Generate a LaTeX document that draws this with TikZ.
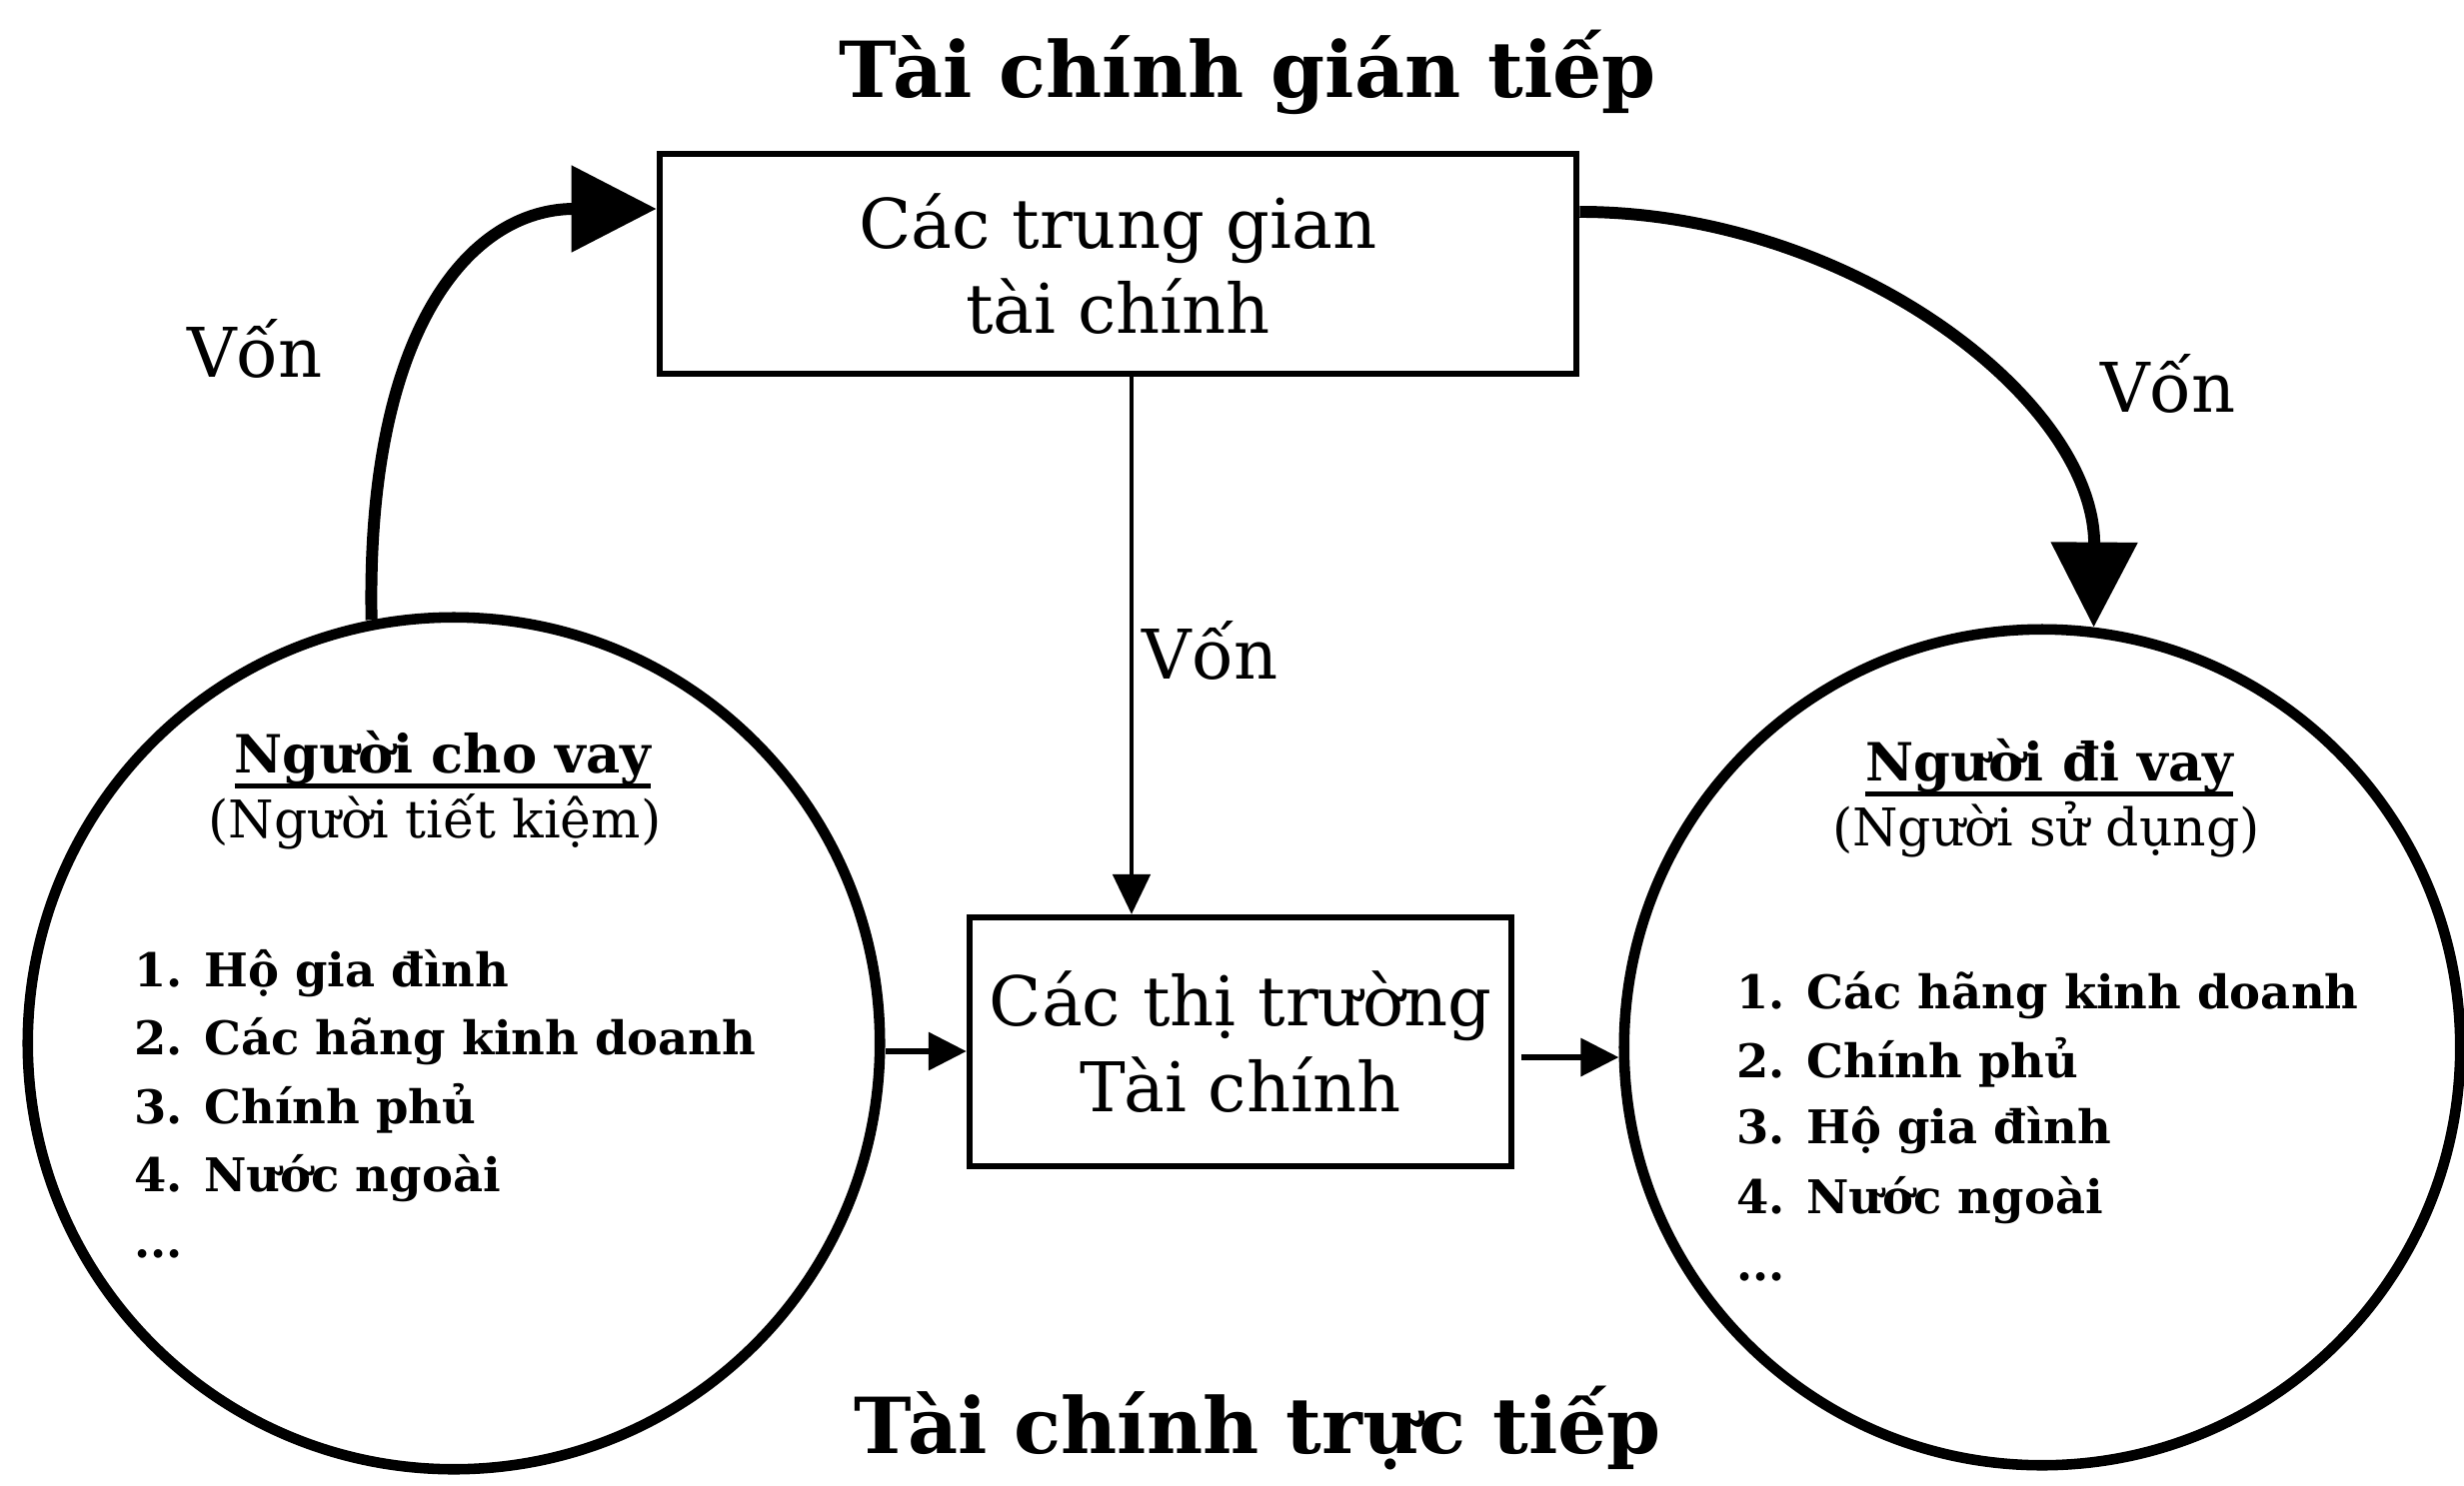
\documentclass[tikz,border=0pt]{standalone}
\usepackage{fontspec}
\setmainfont{DejaVu Serif}
\usetikzlibrary{arrows.meta}
\newcommand\myul[1]{\setbox0\hbox{#1}\rlap{\rule[-4.5pt]{\wd0}{1.3pt}}\box0}
\begin{document}
\begin{tikzpicture}[x=0.01cm,y=-0.01cm,
  box/.style={draw, line width=1.7pt, inner sep=0pt},
  circ/.style={draw, circle, line width=3pt, inner sep=0pt},
  ttl/.style={font=\bfseries\fontsize{22}{26}\selectfont},
  lbl/.style={font=\fontsize{19.5}{24.2}\selectfont},
  hd/.style={font=\bfseries\fontsize{15}{18}\selectfont},
  sub/.style={font=\fontsize{14.8}{18}\selectfont},
  itm/.style={font=\bfseries\fontsize{13.2}{16}\selectfont},
  bigarr/.style={line width=3.4pt, -{Triangle[length=0.85cm,width=0.84cm]}},
  smallarr/.style={line width=1.8pt, -{Triangle[length=0.38cm,width=0.37cm]}},
  thinarr/.style={line width=1.4pt, -{Triangle[length=0.4cm,width=0.37cm]}},
]
\useasboundingbox (0,0) rectangle (2465,1487);
\node[ttl, anchor=base] (t1) at (1248,97) {Tài chính gián tiếp};
\node[box, minimum width=9.17cm, minimum height=2.2cm, lbl, align=center] (tb) at (1118.5,264) {Các trung gian\\tài chính};
\node[box, minimum width=5.42cm, minimum height=2.49cm, lbl, align=center] (bb) at (1241,1042.5) {Các thị trường\\Tài chính};
\node[circ, minimum size=8.52cm] (lc) at (454,1044) {};
\node[circ, minimum size=8.36cm] (rc) at (2043,1048) {};
% left circle text
\node[hd, anchor=base] (lh) at (443,773) {\myul{Người cho vay}};
\node[sub, anchor=base] (ls) at (435,838) {(Người tiết kiệm)};
\node[itm, anchor=base west] (l1) at (122,987) {1. Hộ gia đình};
\node[itm, anchor=base west] (l2) at (122,1055) {2. Các hãng kinh doanh};
\node[itm, anchor=base west] (l3) at (122,1124) {3. Chính phủ};
\node[itm, anchor=base west] (l4) at (122,1192) {4. Nước ngoài};
\node[itm, anchor=base west] (l5) at (122,1258) {...};
% right circle text
\node[hd, anchor=base] (rh) at (2050,781) {\myul{Người đi vay}};
\node[sub, anchor=base] (rs) at (2047,846) {(Người sử dụng)};
\node[itm, anchor=base west] (r1) at (1725,1009) {1. Các hãng kinh doanh};
\node[itm, anchor=base west] (r2) at (1725,1078) {2. Chính phủ};
\node[itm, anchor=base west] (r3) at (1725,1144) {3. Hộ gia đình};
\node[itm, anchor=base west] (r4) at (1725,1214) {4. Nước ngoài};
\node[itm, anchor=base west] (r5) at (1725,1281) {...};
% labels
\node[lbl, anchor=base] (v1) at (255,377) {Vốn};
\node[lbl, anchor=base] (v2) at (2169,412) {Vốn};
\node[lbl, anchor=base west, inner sep=0pt] (v3) at (1142,679) {Vốn};
\node[ttl, anchor=base] (t2) at (1258,1454) {Tài chính trực tiếp};
% arrows
\draw[bigarr] (lc.101) .. controls (366,330) and (470,209) .. ([yshift=0.55cm]tb.west);
\draw[bigarr] ([yshift=0.52cm]tb.east) .. controls (1850,212) and (2096,400) .. (rc.83);
\draw[thinarr] ([xshift=0.135cm]tb.south) -- ([xshift=0.135cm]tb.south |- bb.north);
\draw[smallarr] ([yshift=-0.08cm]lc.east) -- ([yshift=-0.08cm]lc.east -| bb.west);
\draw[smallarr] ([yshift=-0.155cm,xshift=0.07cm]bb.east) -- ([yshift=-0.155cm]bb.east -| rc.west);
\end{tikzpicture}
\end{document}
